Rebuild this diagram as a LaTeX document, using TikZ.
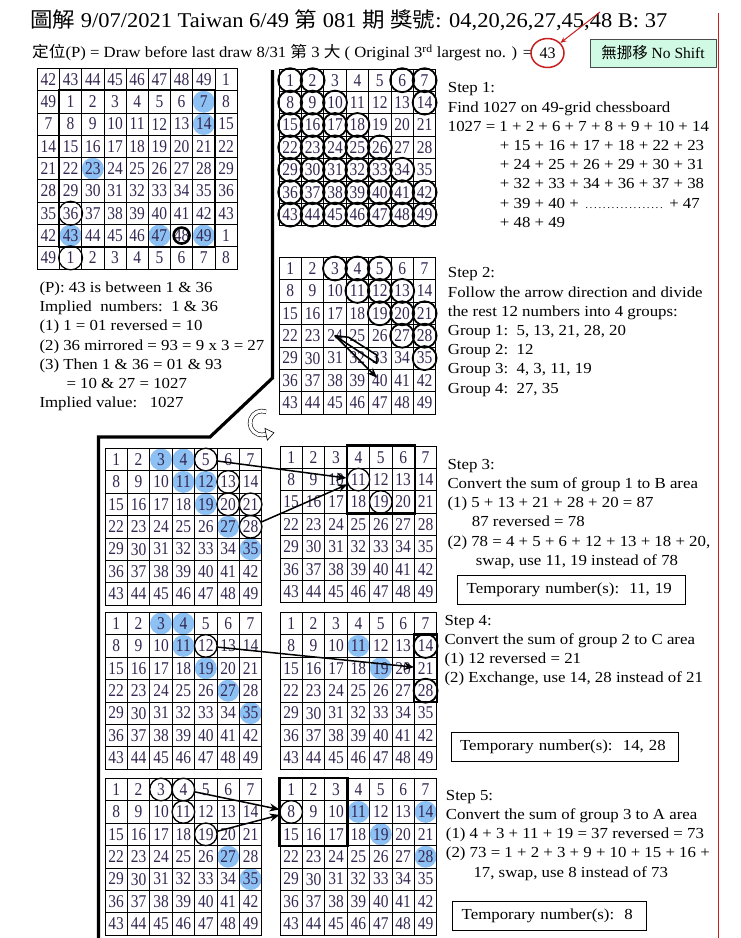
\documentclass[tikz,border=0pt]{standalone}
\usepackage{fontspec}
\usepackage{graphicx}
\setmainfont{Liberation Serif}
\newfontfamily\gridfont[FakeStretch=0.86]{Liberation Serif}
\newfontfamily\stepfont[FakeStretch=1.1]{Liberation Serif}
\newfontfamily\cjk{Noto Sans CJK TC}
\usetikzlibrary{positioning,arrows.meta,backgrounds,shapes.geometric}
\definecolor{numink}{RGB}{52,38,80}
\definecolor{dotblue}{RGB}{141,192,243}
\definecolor{mint}{RGB}{208,250,228}
\definecolor{redline}{RGB}{200,30,30}

% 7x7 board: #1 name, #2 left, #3 top
\newcommand{\sevenboard}[3]{%
  \foreach \r in {0,...,6}
    \foreach \c in {0,...,6}{
      \pgfmathtruncatemacro{\v}{7*\r+\c+1}
      \node[cell] (g#1-\v) at ({#2+22.4*\c+11.2},{#3+22.4*\r+11.2}) {\v};
    }}
% marks on cells: #1 style, #2 prefix, #3 board, #4 list
\newcommand{\markcells}[4]{%
  \foreach \v in {#4} \node[#1] (#2-\v) at (g#3-\v) {};}

\begin{document}
\begin{tikzpicture}[x=1pt, y=-1pt,
  cell/.style={draw, line width=0.7pt, minimum width=22.4pt, minimum height=22.4pt,
    inner sep=0pt, text=numink, font=\gridfont\fontsize{18}{18}\selectfont},
  ring/.style={circle, draw, line width=1.3pt, minimum size=22.6pt, inner sep=0pt},
  bring/.style={ring, line width=1.8pt, minimum size=24pt},
  bluedot/.style={circle, fill=dotblue, minimum size=22pt, inner sep=0pt},
  boxline/.style={line width=2.4pt},
  arr/.style={line width=1.5pt, -{Stealth[length=10pt,width=8pt]}},
  steptext/.style={anchor=north west, align=left, inner sep=0pt,
    font=\stepfont\fontsize{15.3}{19.2}\selectfont},
  tmpbox/.style={draw, line width=0.8pt, anchor=west, minimum height=29pt,
    inner xsep=9pt, align=left, font=\stepfont\fontsize{15.3}{19.2}\selectfont}]
\useasboundingbox (0,0) rectangle (740,938);

% heading
\node[anchor=west, inner sep=0pt, font=\fontsize{21}{21}\selectfont] (title) at (30,20)
  {\resizebox{637pt}{\height}{{\cjk 圖解} 9/07/2021 Taiwan 6/49 {\cjk 第} 081 {\cjk 期} {\cjk 獎號}: 04,20,26,27,45,48 B: 37}};
\node[anchor=west, inner sep=0pt, font=\fontsize{15.5}{16}\selectfont] (subtitle) at (32,53)
  {\resizebox{500pt}{\height}{{\cjk 定位}(P) = Draw before last draw 8/31 {\cjk 第} 3 {\cjk 大} ( Original 3\textsuperscript{rd} largest no. ) =}};
\node[ellipse, draw=redline, line width=1.5pt, minimum width=33pt, minimum height=29pt,
  inner sep=0pt, font=\fontsize{16}{16}\selectfont] (pval) at (547.5,53) {43};
\coordinate (ptr) at (600,12);
\draw[redline, line width=1pt, -{Stealth[length=6pt,width=5pt]}] (ptr) -- (pval);
\node[draw=black!70, fill=mint, minimum width=126pt, minimum height=28pt,
  font=\fontsize{15.5}{16}\selectfont] (noshift) at (653,53) {{\cjk 無挪移} No Shift};
\draw[redline, line width=1pt] (718,13) -- (718,938);

% divider
\draw[line width=3.2pt] (272.5,70) -- (272.5,378) -- (210,437) -- (98.5,437) -- (98.5,938);

% position board
\foreach \r in {0,...,8}
  \foreach \c in {0,...,8}{
    \pgfmathtruncatemacro{\v}{mod(7*(\r-1)+\c-1+49,49)+1}
    \node[cell, minimum width=22.2pt, minimum height=22.3pt] (g0-\r-\c)
      at ({37.3+22.2*\c+11.1},{68.3+22.3*\r+11.15}) {\v};
  }
\draw[boxline] (g0-1-1.north west) rectangle (g0-7-7.south east);
\foreach \p in {6-1,8-1} \node[ring, line width=1.2pt, minimum size=24pt] (r0-\p) at (g0-\p) {};
\node[ring, line width=2.6pt, minimum size=16pt] (r0-7-6) at (g0-7-6) {};

\node[steptext] (pnote) at (39.3,281.6) {(P): 43 is between 1 \& 36\\
Implied\ \ numbers:\ \ 1 \& 36\\
(1) 1 = 01 reversed = 10\\
(2) 36 mirrored = 93 = 9 x 3 = 27\\
(3) Then 1 \& 36 = 01 \& 93\\
\hspace*{27pt}= 10 \& 27 = 1027\\
Implied value:\ \ \ 1027};

% step 1
\sevenboard{1}{279}{69}
\markcells{bring}{r1}{1}{1,2,6,7,8,9,10,14,15,16,17,18,22,23,24,25,26,29,30,31,32,33,34,36,37,38,39,40,41,42,43,44,45,46,47,48,49}
\node[steptext] (step1) at (447.7,82.6) {Step 1:\\
Find 1027 on 49-grid chessboard\\
1027 = 1 + 2 + 6 + 7 + 8 + 9 + 10 + 14\\
\hspace*{52pt}+ 15 + 16 + 17 + 18 + 22 + 23\\
\hspace*{52pt}+ 24 + 25 + 26 + 29 + 30 + 31\\
\hspace*{52pt}+ 32 + 33 + 34 + 36 + 37 + 38\\
\hspace*{52pt}+ 39 + 40 + {\fontsize{10}{10}\selectfont\makebox[82pt]{\dotfill}} + 47\\
\hspace*{52pt}+ 48 + 49};

% step 2
\sevenboard{2}{279}{257.3}
\markcells{bring}{r2}{2}{3,4,5,11,12,13,19,20,21,27,28,35}
\draw[line width=1.6pt, line join=round] (g2-24.center) -- (348.7,337.3) -- (376.7,355) -- (376.7,363.3) -- cycle;
\draw[arr, shorten >=4pt] (g2-24.center) -- (g2-40.center);
\node[steptext] (step2) at (447.7,267.6) {Step 2:\\
Follow the arrow direction and divide\\
the rest 12 numbers into 4 groups:\\
Group 1:\ \ 5, 13, 21, 28, 20\\
Group 2:\ \ 12\\
Group 3:\ \ 4, 3, 11, 19\\
Group 4:\ \ 27, 35};

% turn arrow
\draw[line width=0.6pt, double, double distance=3.2pt] (266.1,411.7) arc[start angle=-70, end angle=-290, radius=12];
\filldraw[fill=white, line width=0.6pt] (273.9,432.7) -- (267.3,440.2) -- (264.9,428.4) -- cycle;

% step 3
\sevenboard{3a}{105}{448.3}
\sevenboard{3b}{280}{446}
\draw[boxline] (g3b-4.north west) rectangle (g3b-20.south east);
\markcells{ring}{r3a}{3a}{5,13,20,21,28}
\markcells{ring}{r3b}{3b}{11,19}
\draw[arr] (r3a-5) -- (r3b-11);
\draw[arr] (r3a-28) -- (r3b-11);
\node[steptext] (step3) at (447.3,459) {Step 3:\\
Convert the sum of group 1 to B area\\
(1) 5 + 13 + 21 + 28 + 20 = 87\\
\hspace*{24.4pt}87 reversed = 78\\
(2) 78 = 4 + 5 + 6 + 12 + 13 + 18 + 20,\\
\hspace*{28.4pt}swap, use 11, 19 instead of 78};
\node[tmpbox, text width=209.7pt] (tmp3) at (457.3,589.5) {Temporary number(s):\ \ 11, 19};

% step 4
\sevenboard{4a}{105}{612.3}
\sevenboard{4b}{280}{612.3}
\draw[boxline] (g4b-14.north west) rectangle (g4b-28.south east);
\markcells{ring}{r4a}{4a}{12}
\markcells{bring}{r4b}{4b}{14,28}
\draw[arr] (r4a-12) -- (g4b-21);
\node[steptext] (step4) at (444.3,615) {Step 4:\\
Convert the sum of group 2 to C area\\
(1) 12 reversed = 21\\
(2) Exchange, use 14, 28 instead of 21};
\node[tmpbox, text width=209.6pt] (tmp4) at (450.7,747) {Temporary number(s):\ \ 14, 28};

% step 5
\sevenboard{5a}{105}{778.3}
\sevenboard{5b}{280}{778.3}
\draw[boxline] (g5b-1.north west) rectangle (g5b-17.south east);
\markcells{ring}{r5a}{5a}{3,4,11,19}
\markcells{ring}{r5b}{5b}{8}
\draw[arr] (r5a-4) -- (r5b-8);
\draw[arr] (r5a-19) -- (r5b-8);
\node[steptext] (step5) at (445.7,790) {Step 5:\\
Convert the sum of group 3 to A area\\
(1) 4 + 3 + 11 + 19 = 37 reversed = 73\\
(2) 73 = 1 + 2 + 3 + 9 + 10 + 15 + 16 +\\
\hspace*{27.6pt}17, swap, use 8 instead of 73};
\node[tmpbox, text width=175.7pt] (tmp5) at (452.3,916.2) {Temporary number(s):\ \ 8};

% blue cells
\begin{pgfonlayer}{background}
  \foreach \p in {1-7,2-7,4-2,7-1,7-5,7-7} \node[bluedot] (b0-\p) at (g0-\p) {};
  \markcells{bluedot}{b3a}{3a}{3,4,11,12,19,27,35}
  \markcells{bluedot}{b4a}{4a}{3,4,11,19,27,35}
  \markcells{bluedot}{b4b}{4b}{11,19}
  \markcells{bluedot}{b5a}{5a}{27,35}
  \markcells{bluedot}{b5b}{5b}{11,14,19,28}
\end{pgfonlayer}
\end{tikzpicture}
\end{document}
